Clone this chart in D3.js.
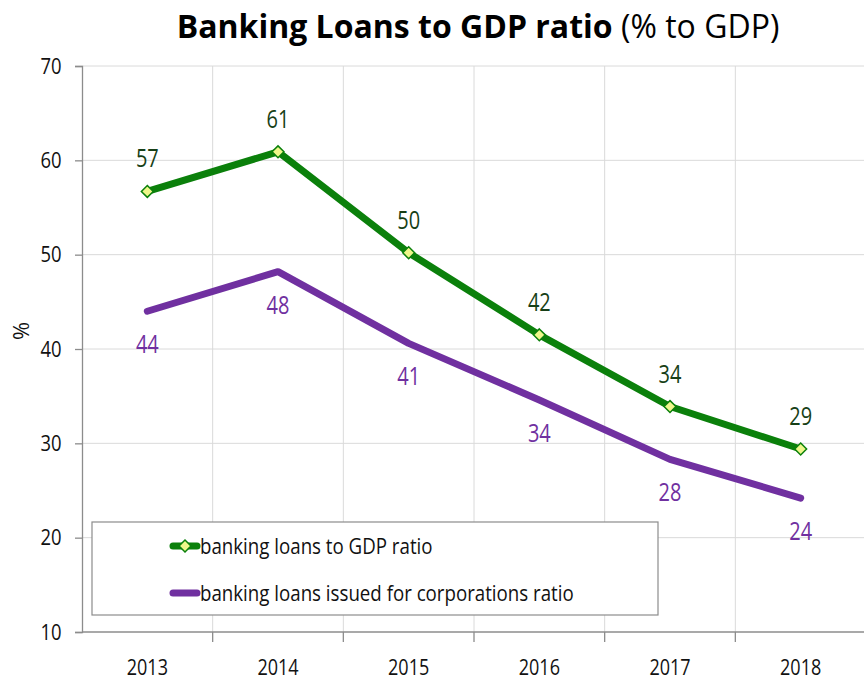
<!DOCTYPE html>
<html>
<head>
<meta charset="utf-8">
<script src="https://cdn.jsdelivr.net/npm/d3@7.9.0/dist/d3.min.js"></script>
<style>
  body { margin: 0; background: #fff; }
  svg { display: block; font-family: "Open Sans", sans-serif; }
</style>
</head>
<body>
<svg id="chart" width="864" height="683"></svg>
<script>
const years = ['2013', '2014', '2015', '2016', '2017', '2018'];
const gdpRatio = [56.7, 60.9, 50.2, 41.5, 33.9, 29.4];
const corpRatio = [44.0, 48.2, 40.6, 34.6, 28.3, 24.2];
const gdpLabels = [57, 61, 50, 42, 34, 29];
const corpLabels = [44, 48, 41, 34, 28, 24];
const yTicks = [10, 20, 30, 40, 50, 60, 70];
const seriesNames = ['banking loans to GDP ratio', 'banking loans issued for corporations ratio'];

const green = '#0b800b';
const purple = '#7030a0';
const narrow = 0.82; // squeeze Open Sans toward a Calibri-like width

const svg = d3.select('#chart');
const margin = { left: 82, right: -2, top: 66, bottom: 51 };
const width = 864 - margin.left - margin.right;
const height = 683 - margin.top - margin.bottom;

const g = svg.append('g').attr('transform', `translate(${margin.left},${margin.top})`);

const x = d3.scaleBand().domain(years).range([0, width]);
const y = d3.scaleLinear().domain([10, 70]).range([height, 0]);
const cx = (d) => x(d) + x.bandwidth() / 2;

function label(parent, px, py, txt, size, fill, sx = narrow) {
  return parent.append('text')
    .attr('transform', `translate(${px},${py}) scale(${sx},1)`)
    .attr('text-anchor', 'middle')
    .attr('font-size', size)
    .attr('fill', fill)
    .text(txt);
}

// grid
g.append('g')
  .selectAll('line')
  .data(yTicks.slice(1))
  .join('line')
  .attr('x1', 0).attr('x2', width)
  .attr('y1', (d) => y(d)).attr('y2', (d) => y(d))
  .attr('stroke', '#dadada');
g.append('g')
  .selectAll('line')
  .data(years.slice(1))
  .join('line')
  .attr('x1', (d) => x(d)).attr('x2', (d) => x(d))
  .attr('y1', 0).attr('y2', height)
  .attr('stroke', '#dadada');

// axes
const yAxis = g.append('g').call(d3.axisLeft(y).tickValues(yTicks).tickSize(7).tickPadding(18));
const xAxis = g.append('g')
  .attr('transform', `translate(0,${height})`)
  .call(d3.axisBottom(x).tickSize(0).tickPadding(27));
[yAxis, xAxis].forEach((a) => {
  a.attr('font-family', null);
  a.select('.domain').attr('stroke', '#8c8c8c').attr('stroke-width', 1.3);
  a.selectAll('.tick line').attr('stroke', '#8c8c8c').attr('stroke-width', 1.3);
  a.selectAll('text').attr('fill', '#111').attr('font-size', 22.5)
    .attr('transform', `scale(${narrow},1)`);
});
xAxis.selectAll('text').attr('font-size', 22);
xAxis.select('.domain').attr('d', `M0,0H${width}`);
g.append('g')
  .selectAll('line')
  .data(years.slice(1))
  .join('line')
  .attr('x1', (d) => x(d)).attr('x2', (d) => x(d))
  .attr('y1', height).attr('y2', height + 10)
  .attr('stroke', '#8c8c8c').attr('stroke-width', 1.3);

// y label
svg.append('text')
  .attr('transform', 'translate(29,331) rotate(-90)')
  .attr('text-anchor', 'middle')
  .attr('font-size', 22)
  .attr('fill', '#111')
  .text('%');

// lines
const line = (vals) => d3.line().x((d, i) => cx(years[i])).y((d) => y(d))(vals);
g.append('path').attr('d', line(corpRatio)).attr('fill', 'none')
  .attr('stroke', purple).attr('stroke-width', 7).attr('stroke-linecap', 'round').attr('stroke-linejoin', 'round');
g.append('path').attr('d', line(gdpRatio)).attr('fill', 'none')
  .attr('stroke', green).attr('stroke-width', 7).attr('stroke-linejoin', 'round');

const diamond = d3.symbol().type(d3.symbolDiamond2).size(90);
g.append('g')
  .selectAll('path')
  .data(gdpRatio)
  .join('path')
  .attr('d', diamond)
  .attr('transform', (d, i) => `translate(${cx(years[i])},${y(d)})`)
  .attr('fill', '#eef78a')
  .attr('stroke', green)
  .attr('stroke-width', 1.5);

// data labels
const gl = g.append('g');
gdpLabels.forEach((d, i) => label(gl, cx(years[i]), y(gdpRatio[i]) - 24, d, 25, '#173f17', 0.8));
const pl = g.append('g');
corpLabels.forEach((d, i) => label(pl, cx(years[i]), y(corpRatio[i]) + 42, d, 25, purple, 0.8));

// legend
const legend = svg.append('g').attr('transform', 'translate(92,522)');
legend.append('rect').attr('width', 566).attr('height', 93)
  .attr('fill', '#fff').attr('stroke', '#8c8c8c').attr('stroke-width', 1.2);
const items = legend.selectAll('g').data(seriesNames).join('g')
  .attr('transform', (d, i) => `translate(0,${24 + i * 47})`);
items.append('line').attr('x1', 81).attr('x2', 105)
  .attr('stroke', (d, i) => (i === 0 ? green : purple))
  .attr('stroke-width', 7).attr('stroke-linecap', 'round');
items.filter((d, i) => i === 0).append('path').attr('d', diamond)
  .attr('transform', 'translate(93,0)')
  .attr('fill', '#eef78a').attr('stroke', green).attr('stroke-width', 1.5);
items.append('text')
  .attr('transform', 'translate(108,0) scale(0.85,1)')
  .attr('dy', '0.35em')
  .attr('font-size', 22).attr('fill', '#111').text((d) => d);

// title
const title = svg.append('text')
  .attr('transform', 'translate(478,38) scale(0.97,1)')
  .attr('text-anchor', 'middle')
  .attr('font-size', 33).attr('fill', '#000');
title.append('tspan').attr('font-weight', 'bold').text('Banking Loans to GDP ratio');
title.append('tspan').text(' (% to GDP)');
</script>
</body>
</html>
